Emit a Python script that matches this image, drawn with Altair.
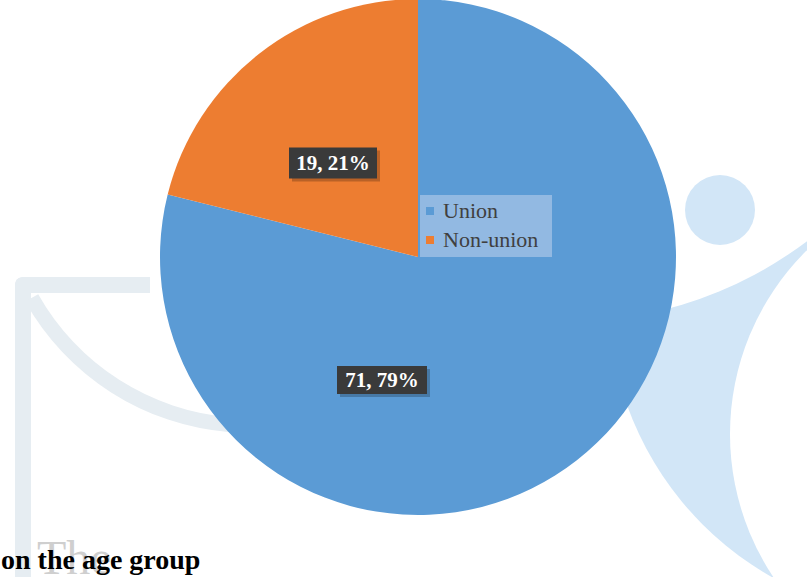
import altair as alt
import pandas as pd

categories = ["Union", "Non-union"]
counts = [71, 19]
colors = ["#5b9bd5", "#ed7d31"]

df = pd.DataFrame({"category": categories, "count": counts, "idx": list(range(len(categories)))})

W, H = 807, 577
CX, CY, R = 418, 257, 258
SERIF = "Liberation Serif"
TAU = 6.2832

base = alt.Chart(df).transform_joinaggregate(
    total="sum(count)"
).transform_calculate(
    pct="round(datum.count / datum.total * 100)",
    label="datum.count + ', ' + datum.pct + '%'"
)

color = alt.Color(
    "category:N",
    scale=alt.Scale(domain=categories, range=colors),
    sort=categories,
    legend=alt.Legend(
        title=None, orient="none", legendX=419, legendY=200,
        padding=0, symbolType="square", symbolSize=64,
        labelFont=SERIF, labelFontSize=22, labelColor="#404040",
        rowPadding=7, symbolStrokeWidth=0, labelOffset=2,
    ),
)

one = alt.Chart(df).transform_filter(alt.datum.idx == 0)

def disc(col, r, cx, cy, r2=None, t0=0.0, t1=TAU):
    kw = dict(color=col, radius=r)
    if r2 is not None:
        kw["radius2"] = r2
    return one.mark_arc(**kw).encode(
        theta=alt.value(t0), theta2=alt.value(t1), x=alt.value(cx), y=alt.value(cy))

# faint watermark decorations (background)
WM_BLUE = "#d2e6f7"
WM_GREY = "#e6edf2"
wm_body = disc(WM_BLUE, 323, 931, 296)
wm_cut_in = disc("white", 258, 988, 434)
wm_cut_arm = disc("white", 400, 566, -78)
wm_head = disc(WM_BLUE, 35, 720, 210)
wm_bar_v = one.mark_rect(color=WM_GREY, cornerRadiusTopLeft=14).encode(
    x=alt.value(15), x2=alt.value(31), y=alt.value(277), y2=alt.value(577))
wm_bar_h = one.mark_rect(color=WM_GREY, cornerRadiusTopLeft=14).encode(
    x=alt.value(15), x2=alt.value(150), y=alt.value(277), y2=alt.value(293))
wm_curve = disc(WM_GREY, 258, 250, 175, r2=243, t0=3.22, t1=4.2)

legend_bg = one.mark_rect(color="#92b9e2").encode(
    x=alt.value(420), x2=alt.value(552), y=alt.value(195), y2=alt.value(257))

pie = base.mark_arc(radius=R, stroke=None).encode(
    theta=alt.Theta("count:Q", stack=True),
    color=color,
    order=alt.Order("idx:Q"),
    x=alt.value(CX),
    y=alt.value(CY),
)

def label_layers(idx, cx, cy, w, h):
    b = base.transform_filter(alt.datum.idx == idx)
    shadow = b.mark_rect(color="#000000", opacity=0.22).encode(
        x=alt.value(cx - w / 2 + 3), x2=alt.value(cx + w / 2 + 3),
        y=alt.value(cy - h / 2 + 3), y2=alt.value(cy + h / 2 + 3))
    box = b.mark_rect(color="#3a3a3a").encode(
        x=alt.value(cx - w / 2), x2=alt.value(cx + w / 2),
        y=alt.value(cy - h / 2), y2=alt.value(cy + h / 2))
    txt = b.mark_text(font=SERIF, fontSize=21, fontWeight="bold",
                      color="white", baseline="middle", align="center").encode(
        text="label:N", x=alt.value(cx), y=alt.value(cy + 1))
    return [shadow, box, txt]

the_txt = one.mark_text(font=SERIF, fontSize=48, color="#cfcfcf",
                        align="left", baseline="alphabetic").encode(
    text=alt.value("The"), x=alt.value(37), y=alt.value(574))
sub_txt = one.mark_text(font=SERIF, fontSize=28, fontWeight="bold", color="#000000",
                        align="left", baseline="alphabetic").encode(
    text=alt.value("on the age group"), x=alt.value(1), y=alt.value(569))

layers = ([wm_body, wm_cut_in, wm_cut_arm, wm_head, wm_bar_v, wm_bar_h, wm_curve, pie, legend_bg]
          + label_layers(1, 333, 163, 88, 31) + label_layers(0, 382, 380, 90, 28)
          + [the_txt, sub_txt])

chart = alt.layer(*layers).properties(
    width=W, height=H, padding=0, background="white",
    autosize=alt.AutoSizeParams(type="none"),
).configure_view(stroke=None, strokeWidth=0)

chart.save("out.html", embed_options={"renderer": "svg", "actions": False})
